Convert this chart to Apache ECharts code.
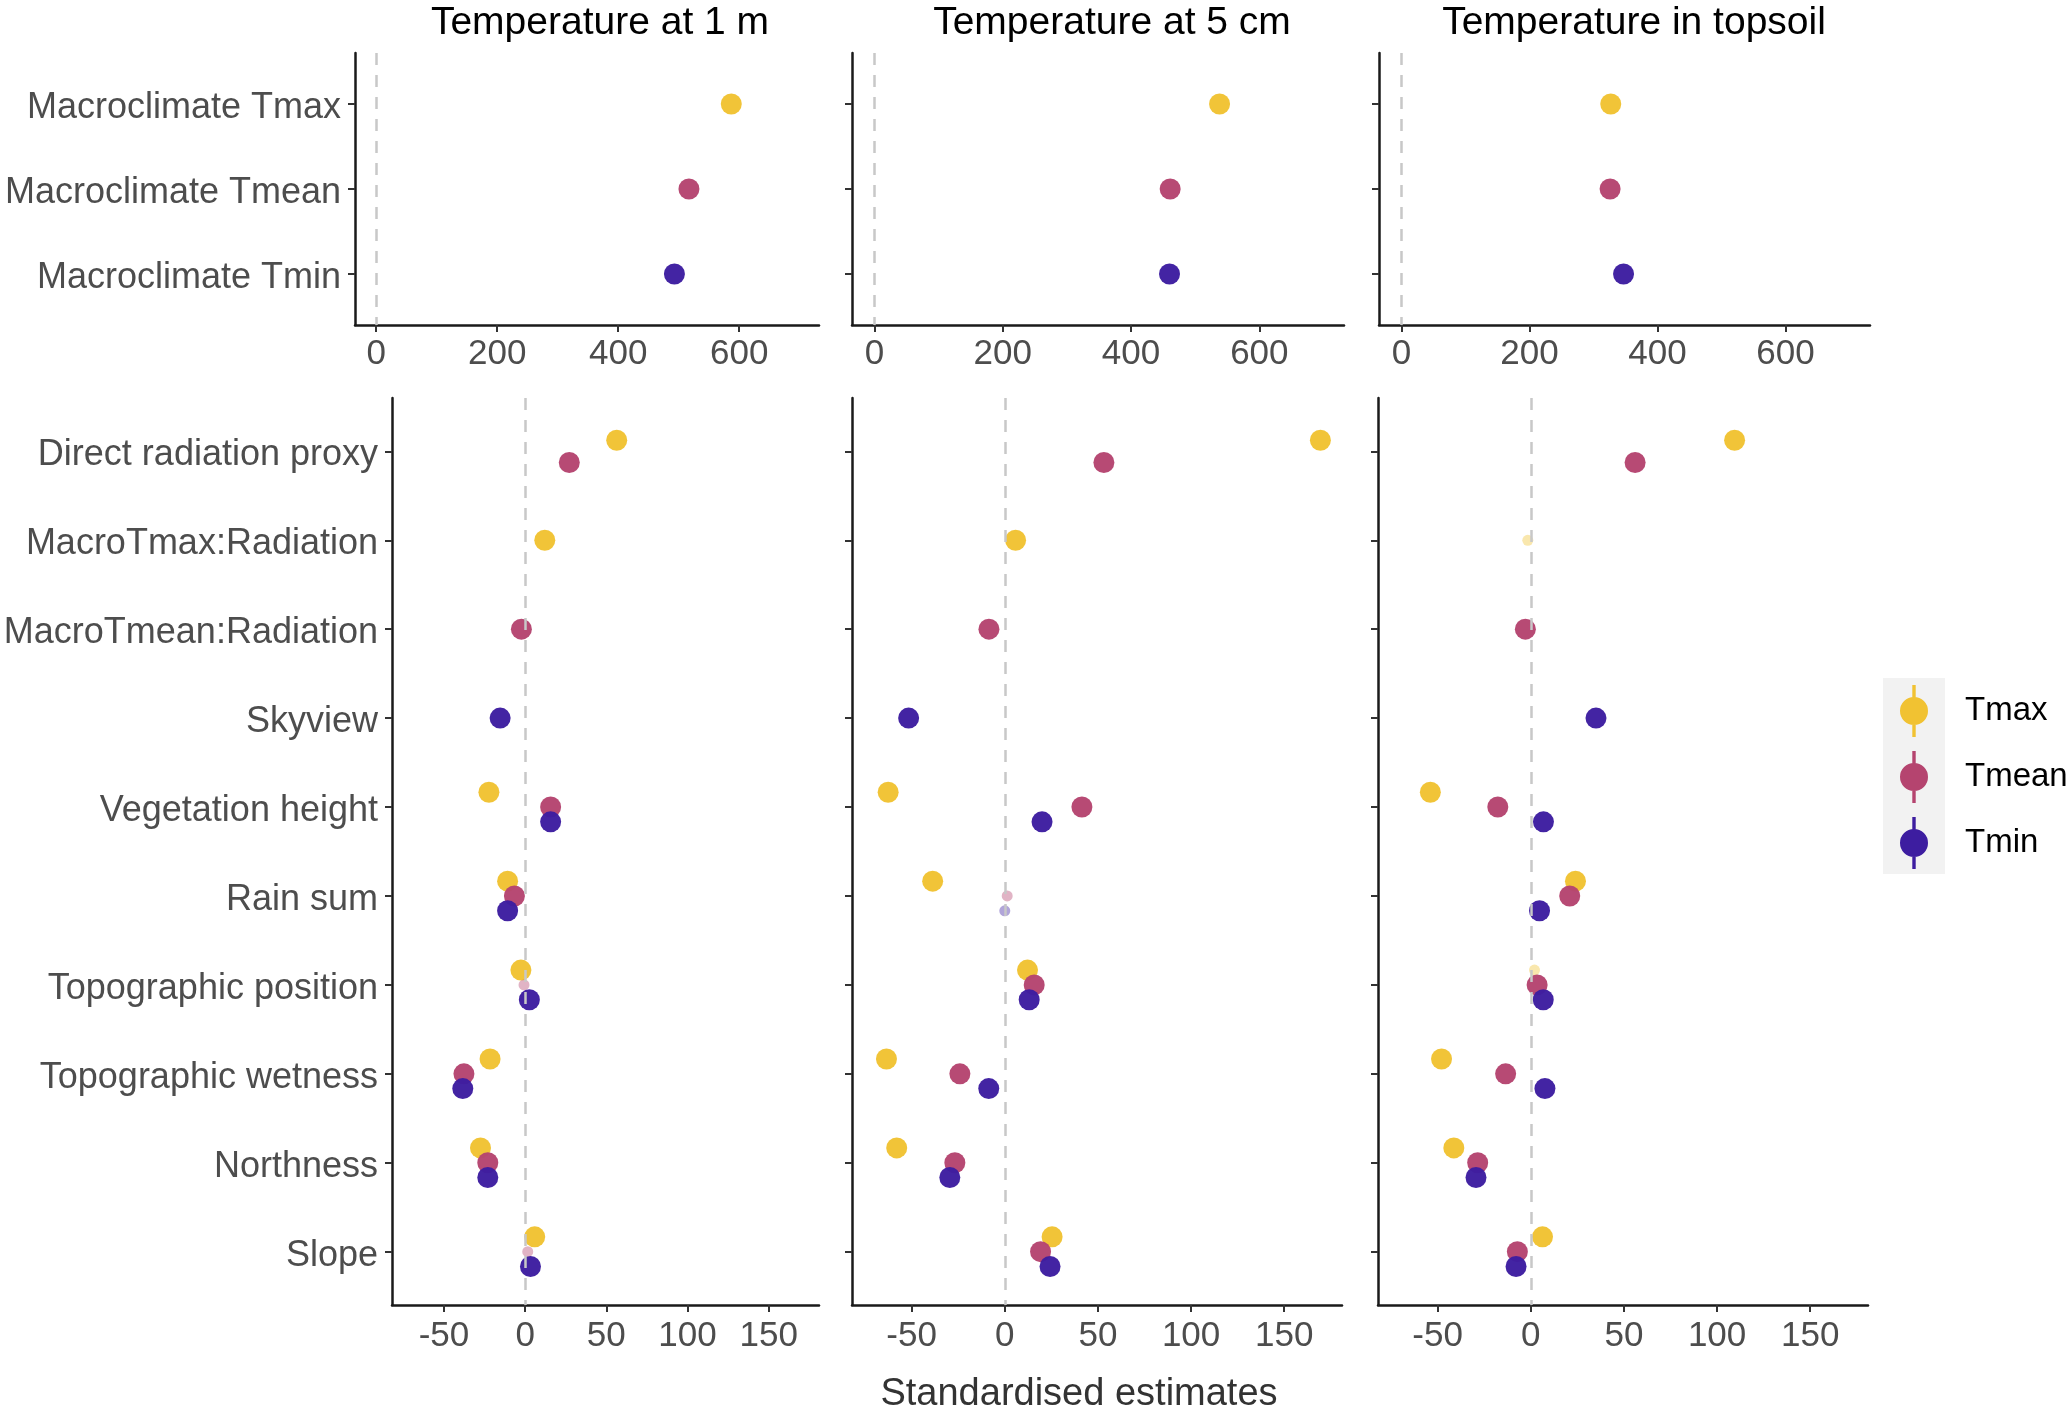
<!DOCTYPE html>
<html>
<head>
<meta charset="utf-8">
<script src="https://cdn.jsdelivr.net/npm/echarts@6/dist/echarts.min.js"></script>
<style>
html,body{margin:0;padding:0;background:#fff;}
#chart{width:2067px;height:1408px;}
</style>
</head>
<body>
<div id="chart"></div>
<script>
// ---------- data ----------
const seriesNames = ['Tmax', 'Tmean', 'Tmin'];
const panelTitles = ['Temperature at 1 m', 'Temperature at 5 cm', 'Temperature in topsoil'];

const topCategories = ['Macroclimate Tmax', 'Macroclimate Tmean', 'Macroclimate Tmin'];
const bottomCategories = ['Direct radiation proxy', 'MacroTmax:Radiation', 'MacroTmean:Radiation', 'Skyview',
  'Vegetation height', 'Rain sum', 'Topographic position', 'Topographic wetness', 'Northness', 'Slope'];

const topTicks = [0, 200, 400, 600];
const bottomTicks = [-50, 0, 50, 100, 150];

// top row (macroclimate), per panel: Tmax, Tmean, Tmin
const top1mTmax = [587, null, null];
const top1mTmean = [null, 517, null];
const top1mTmin = [null, null, 493];
const top5cmTmax = [538, null, null];
const top5cmTmean = [null, 461, null];
const top5cmTmin = [null, null, 460];
const topSoilTmax = [327, null, null];
const topSoilTmean = [null, 326, null];
const topSoilTmin = [null, null, 347];

// bottom row (local predictors)
const bot1mTmax = [56.4, 12.1, null, null, -22.3, -10.8, -2.6, -21.6, -27.5, 5.9];
const bot1mTmean = [27.2, null, -2.3, null, 15.7, -6.6, -0.7, -37.7, -23.0, 1.6];
const bot1mTmin = [null, null, null, -15.4, 15.7, -10.8, 2.6, -38.4, -23.0, 3.3];
const bot5cmTmax = [169.4, 5.8, null, null, -62.6, -38.7, 12.2, -63.5, -58.0, 25.4];
const bot5cmTmean = [53.2, null, -8.5, null, 41.4, 1.3, 15.8, -24.1, -26.8, 19.2];
const bot5cmTmin = [null, null, null, -51.6, 20.0, 0.0, 13.1, -8.6, -29.5, 24.3];
const botSoilTmax = [109.4, -1.6, null, null, -53.9, 24.0, 2.0, -47.9, -41.3, 6.3];
const botSoilTmean = [56.0, null, -2.9, null, -17.7, 20.9, 3.4, -13.5, -28.5, -7.2];
const botSoilTmin = [null, null, null, 35.0, 6.8, 4.7, 6.7, 7.6, -29.4, -7.9];

// non-significant estimates: [seriesIndex, categoryIndex]
const bot1mFaint = [[1, 6], [1, 9]];
const bot5cmFaint = [[1, 5], [2, 5]];
const botSoilFaint = [[0, 1], [0, 6]];

// ---------- styling ----------
const COLORS = ['#F1C232', '#B5446F', '#3D1DA0'];
const FONT = "'Liberation Sans', Arial, Helvetica, sans-serif";
const AXIS_COLOR = '#1a1a1a';
const LABEL_COLOR = '#4D4D4D';

const grids = [
  {left: 355, top: 53, width: 464, height: 272},
  {left: 852, top: 53, width: 492, height: 272},
  {left: 1379, top: 53, width: 491, height: 272},
  {left: 392, top: 398, width: 427, height: 907},
  {left: 852, top: 398, width: 490, height: 907},
  {left: 1378, top: 398, width: 490, height: 907}
];

const panels = [
  {cats: topCategories, vals: [top1mTmax, top1mTmean, top1mTmin], faint: [], top: true, labels: true},
  {cats: topCategories, vals: [top5cmTmax, top5cmTmean, top5cmTmin], faint: [], top: true, labels: false},
  {cats: topCategories, vals: [topSoilTmax, topSoilTmean, topSoilTmin], faint: [], top: true, labels: false},
  {cats: bottomCategories, vals: [bot1mTmax, bot1mTmean, bot1mTmin], faint: bot1mFaint, top: false, labels: true},
  {cats: bottomCategories, vals: [bot5cmTmax, bot5cmTmean, bot5cmTmin], faint: bot5cmFaint, top: false, labels: false},
  {cats: bottomCategories, vals: [botSoilTmax, botSoilTmean, botSoilTmin], faint: botSoilFaint, top: false, labels: false}
];

const xAxes = [], yAxes = [], series = [];
const DODGE = 0.5;

panels.forEach((p, gi) => {
  const ticks = p.top ? topTicks : bottomTicks;
  xAxes.push({
    type: 'value', gridIndex: gi,
    min: p.top ? -35 : -82, max: p.top ? 732 : 181,
    splitLine: {show: false},
    axisLine: {show: true, onZero: false, lineStyle: {color: AXIS_COLOR, width: 2.5}},
    axisTick: {show: true, length: 7, customValues: ticks, lineStyle: {color: '#333', width: 2}},
    axisLabel: {show: true, customValues: ticks, margin: p.top ? 12 : 14, fontSize: 35, color: LABEL_COLOR, fontFamily: FONT}
  });
  const idx = p.cats.map((c, i) => i);
  yAxes.push({
    type: 'value', gridIndex: gi, inverse: true,
    min: -0.6, max: p.cats.length - 1 + 0.6,
    splitLine: {show: false},
    axisLine: {show: true, onZero: false, lineStyle: {color: AXIS_COLOR, width: 2.5}},
    axisTick: {show: true, length: 7, customValues: idx, lineStyle: {color: '#333', width: 2}},
    axisLabel: {show: p.labels, customValues: idx, margin: 14, fontSize: 36, color: LABEL_COLOR, fontFamily: FONT,
      rich: {c: {fontSize: 36, color: LABEL_COLOR, fontFamily: FONT, padding: [8, 0, 0, 0]}},
      formatter: v => '{c|' + p.cats[Math.round(v)] + '}'}
  });
  // zero reference line
  series.push({
    type: 'scatter', xAxisIndex: gi, yAxisIndex: gi, data: [], silent: true, z: 1,
    markLine: {silent: true, symbol: 'none', label: {show: false}, animation: false,
      lineStyle: {type: [12, 10], color: '#C8C8C8', width: 2.5},
      data: [{xAxis: 0}]}
  });
  // count present estimates per category for dodging
  const present = p.cats.map((c, ci) => [0, 1, 2].filter(s => p.vals[s][ci] !== null));
  [0, 1, 2].forEach(s => {
    const data = [];
    p.cats.forEach((c, ci) => {
      const v = p.vals[s][ci];
      if (v === null) return;
      const list = present[ci];
      const n = list.length;
      const r = list.indexOf(s);
      const off = (r - (n - 1) / 2) * (DODGE / n);
      const faint = p.faint.some(f => f[0] === s && f[1] === ci);
      data.push({
        value: [v, ci + off],
        symbolSize: faint ? 11 : 21,
        itemStyle: {opacity: faint ? 0.4 : 0.97}
      });
    });
    series.push({
      name: seriesNames[s], type: 'scatter', xAxisIndex: gi, yAxisIndex: gi, z: 3,
      itemStyle: {color: COLORS[s]},
      emphasis: {disabled: true},
      data: data
    });
  });
});

const legendIcon = 'path://M12.3,0 L15.7,0 L15.7,52 L12.3,52 Z M0,26 A14,14 0 1 1 28,26 A14,14 0 1 1 0,26 Z';

const graphics = [
  {type: 'rect', left: 1883, top: 678, shape: {width: 62, height: 196}, style: {fill: '#F2F2F2'}, z: -10, silent: true}
];
const titleX = [600, 1112, 1634];
panelTitles.forEach((t, i) => {
  graphics.push({type: 'text', x: titleX[i], y: 23, silent: true,
    style: {text: t, fontSize: 39, fontFamily: FONT, fill: '#000', align: 'center', verticalAlign: 'middle'}});
});
graphics.push({type: 'text', x: 1079, y: 1395, silent: true,
  style: {text: 'Standardised estimates', fontSize: 38, fontFamily: FONT, fill: '#333', align: 'center', verticalAlign: 'middle'}});

const chart = echarts.init(document.getElementById('chart'), null, {renderer: 'canvas'});
chart.setOption({
  backgroundColor: '#fff',
  animation: false,
  textStyle: {fontFamily: FONT},
  grid: grids.map(g => Object.assign({containLabel: false}, g)),
  xAxis: xAxes,
  yAxis: yAxes,
  legend: {
    data: seriesNames.map((n, i) => ({name: n, itemStyle: {color: COLORS[i], opacity: 1}})),
    orient: 'vertical', left: 1900, top: 685, padding: 0,
    itemWidth: 28, itemHeight: 52, itemGap: 14, icon: legendIcon, selectedMode: false,
    itemStyle: {opacity: 1, borderWidth: 0},
    textStyle: {fontSize: 33, color: '#000', fontFamily: FONT, padding: [4, 0, 0, 32]}
  },
  graphic: graphics,
  series: series
});
</script>
</body>
</html>
